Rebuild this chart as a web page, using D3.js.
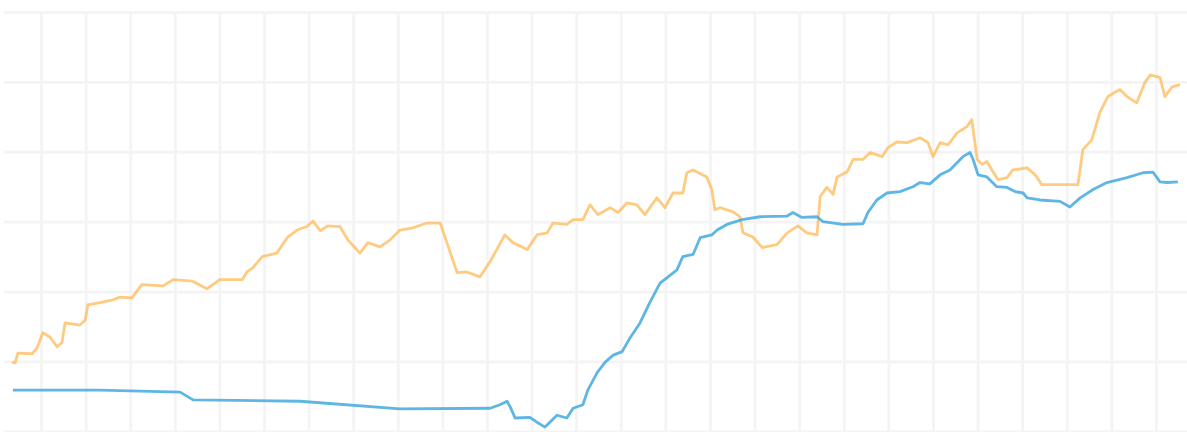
<!DOCTYPE html>
<html lang="en">
<head>
    <meta charset="UTF-8">
    <meta name="viewport" content="width=device-width, initial-scale=1.0">
    <script src="https://d3js.org/d3.v7.min.js"></script>
    <title>Chart</title>
    <style>
        body { margin: 0; background: #fff; }
        svg { display: block; }
        .gridlines line { stroke: #f4f4f4; stroke-width: 2.8; }
        .gridlines .domain { stroke: none; }
    </style>
</head>
<body>
    <svg id="s1" width="1187" height="432"></svg>
    <script>
        // grid ticks
        const xTicks = d3.range(10, 261, 10);
        const yTicks = [0, 10, 20, 30, 40, 50, 60];

        // orange series: [step, value]
        const orangeSeries = [
            [3.5, 9.9], [4.2, 9.8], [4.8, 11.2], [8.0, 11.1], [9.1, 11.9], [10.4, 14.1], [12.0, 13.5],
            [13.6, 12.1], [14.7, 12.7], [15.4, 15.5], [18.7, 15.2], [19.9, 15.9], [20.5, 18.1], [23.2, 18.4],
            [26.1, 18.8], [27.7, 19.2], [30.4, 19.1], [32.6, 21.0], [37.4, 20.8], [39.6, 21.7], [43.9, 21.5],
            [47.2, 20.4], [50.1, 21.7], [55.1, 21.7], [56.2, 22.8], [57.5, 23.4], [59.6, 25.0], [62.9, 25.5],
            [65.2, 27.7], [67.4, 28.8], [69.6, 29.3], [71.0, 30.1], [72.6, 28.7], [74.3, 29.4], [77.0, 29.3],
            [78.8, 27.4], [81.5, 25.5], [83.3, 27.0], [86.0, 26.4], [88.3, 27.4], [90.5, 28.8], [93.4, 29.1],
            [96.5, 29.8], [99.5, 29.8], [101.0, 27.0], [103.3, 22.7], [105.5, 22.8], [108.4, 22.1], [110.7, 24.3],
            [114.0, 28.1], [115.8, 27.0], [119.0, 26.0], [121.2, 28.1], [123.5, 28.4], [124.8, 29.8], [127.9, 29.6],
            [129.3, 30.3], [131.5, 30.3], [133.1, 32.4], [134.9, 31.0], [137.6, 32.0], [139.4, 31.3], [141.4, 32.7],
            [143.6, 32.4], [145.4, 31.0], [148.1, 33.4], [149.9, 32.0], [151.7, 34.1], [153.9, 34.1], [154.8, 37.0],
            [156.2, 37.4], [159.3, 36.4], [160.4, 34.6], [161.1, 31.7], [162.2, 32.0], [165.2, 31.4], [166.7, 30.7],
            [167.4, 28.4], [169.6, 27.8], [171.7, 26.3], [175.0, 26.7], [177.3, 28.4], [179.7, 29.4], [181.7, 28.4],
            [184.0, 28.1], [184.7, 33.6], [186.2, 34.9], [187.6, 33.9], [188.5, 36.4], [190.7, 37.1], [192.1, 38.9],
            [194.3, 38.9], [195.9, 39.9], [198.6, 39.3], [199.9, 40.6], [201.9, 41.4], [204.2, 41.3], [207.1, 42.0],
            [208.9, 41.3], [210.0, 39.3], [211.6, 41.3], [213.4, 41.0], [215.4, 42.7], [217.6, 43.6], [218.7, 44.6],
            [219.9, 38.9], [221.0, 38.2], [222.1, 38.6], [223.2, 37.4], [224.6, 36.0], [226.6, 36.3], [227.9, 37.4],
            [231.1, 37.7], [232.9, 36.7], [234.4, 35.3], [242.5, 35.3], [243.6, 40.3], [245.6, 41.7], [247.4, 45.6],
            [249.2, 47.9], [251.9, 48.9], [253.5, 47.9], [255.7, 47.0], [257.5, 49.9], [258.7, 51.0], [260.9, 50.6],
            [262.0, 47.9], [263.6, 49.3], [265.4, 49.6]
        ];

        // blue series: [step, value]
        const blueSeries = [
            [3.7, 5.9], [23.2, 5.9], [41.2, 5.6], [44.1, 4.5], [68.1, 4.3], [90.5, 3.2], [110.7, 3.3],
            [112.9, 3.8], [114.5, 4.3], [115.2, 3.5], [116.3, 1.9], [119.6, 2.0], [121.2, 1.3], [123.0, 0.6],
            [125.7, 2.3], [127.9, 1.9], [129.3, 3.3], [131.5, 3.8], [132.6, 5.9], [134.7, 8.4], [136.5, 9.9],
            [138.3, 10.9], [140.3, 11.4], [142.1, 13.4], [144.3, 15.5], [146.5, 18.4], [148.8, 21.2], [150.4, 22.0],
            [152.6, 23.1], [153.9, 25.0], [156.2, 25.3], [157.8, 27.7], [160.4, 28.1], [161.6, 28.8], [163.8, 29.6],
            [167.2, 30.3], [171.2, 30.7], [177.3, 30.8], [178.6, 31.3], [180.6, 30.6], [184.0, 30.7], [185.3, 30.0],
            [189.8, 29.6], [194.3, 29.7], [195.4, 31.3], [197.4, 33.1], [199.7, 34.1], [202.6, 34.3], [205.5, 35.0],
            [207.1, 35.6], [209.3, 35.4], [211.6, 36.7], [213.8, 37.4], [216.7, 39.3], [218.3, 39.9], [219.0, 38.9],
            [220.1, 36.7], [222.1, 36.4], [224.3, 35.0], [226.6, 34.9], [228.4, 34.3], [230.2, 34.1], [231.1, 33.4],
            [234.0, 33.1], [238.5, 32.9], [240.7, 32.1], [243.0, 33.4], [245.9, 34.6], [249.0, 35.6], [253.5, 36.3],
            [257.1, 37.0], [259.3, 37.1], [260.9, 35.7], [262.5, 35.6], [264.9, 35.7]
        ];

        const svg = d3.select("svg#s1");
        const width = +svg.attr("width");
        const height = +svg.attr("height");
        const plot = {left: 4, top: 12, bottom: 431.3};

        const xScale = d3.scaleLinear().domain([0, 260]).range([-3.6, 1156]);
        const yScale = d3.scaleLinear().domain([0, 60]).range([plot.bottom, plot.top]);

        // gridlines
        let xGrid = d3.axisBottom(xScale)
                      .tickValues(xTicks)
                      .tickSize(-(height - plot.top))
                      .tickFormat("");
        svg.append("g")
           .attr("class", "x gridlines")
           .attr("transform", "translate(0," + height + ")")
           .call(xGrid);

        let yGrid = d3.axisLeft(yScale)
                      .tickValues(yTicks)
                      .tickSize(-(width - plot.left))
                      .tickFormat("");
        svg.append("g")
           .attr("class", "y gridlines")
           .attr("transform", "translate(" + plot.left + ",0)")
           .call(yGrid);

        const line = d3.line()
                       .x(d => xScale(d[0]))
                       .y(d => yScale(d[1]));

        svg.append("path")
           .datum(orangeSeries)
           .attr("d", line)
           .attr("fill", "none")
           .attr("stroke", "#fdb750")
           .attr("stroke-opacity", 0.72)
           .attr("stroke-width", 2.8)
           .attr("stroke-linejoin", "round");

        svg.append("path")
           .datum(blueSeries)
           .attr("d", line)
           .attr("fill", "none")
           .attr("stroke", "#3aa6de")
           .attr("stroke-opacity", 0.82)
           .attr("stroke-width", 2.8)
           .attr("stroke-linejoin", "round");
    </script>
</body>
</html>
